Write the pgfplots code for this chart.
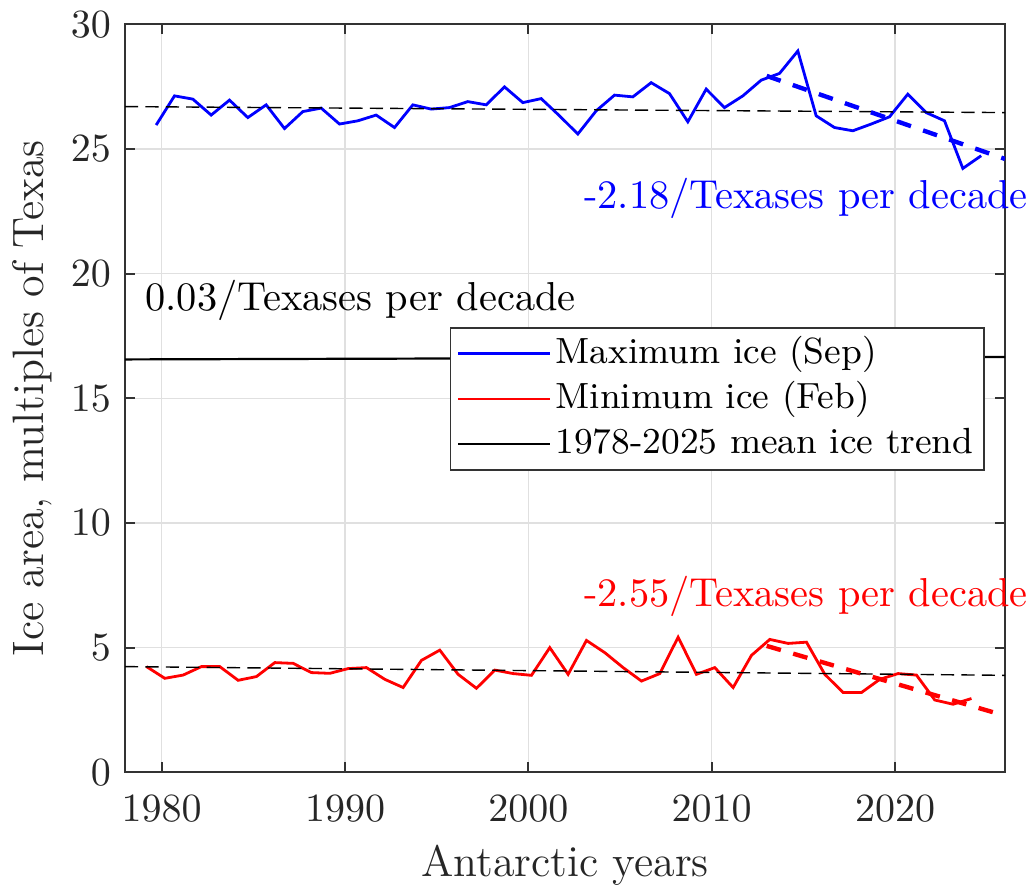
\documentclass[border=0pt]{standalone}
\usepackage{pgfplots}
\pgfplotsset{compat=1.18}
\begin{document}
\begin{tikzpicture}
\begin{axis}[
  scale only axis, width=220pt, height=187pt,
  xmin=1978, xmax=2026, ymin=0, ymax=30,
  xtick={1980,1990,2000,2010,2020}, ytick={0,5,10,15,20,25,30},
  tick pos=both, tick align=inside, major tick length=2.5pt,
  grid=major, grid style={line width=0.3pt, draw=black!12},
  axis line style={draw=black!80, line width=0.45pt},
  tick style={draw=black!80, line width=0.45pt},
  every tick label/.append style={font=\fontsize{10.3}{12}\selectfont, text=black!85},
  xticklabel style={yshift=-2.2pt},
  /pgf/number format/1000 sep={},
  xlabel={Antarctic years},
  ylabel={Ice area, multiples of Texas},
  every axis x label/.style={at={([yshift=-17.9pt]axis description cs:0.5,0)}, anchor=north, inner sep=0pt, font=\fontsize{11}{13}\selectfont, text=black!85},
  every axis y label/.style={at={([xshift=-28.3pt]axis description cs:0,0.5)}, rotate=90, anchor=north, inner sep=0pt, font=\fontsize{11}{13}\selectfont, text=black!85},
  clip mode=individual,
  legend cell align=left,
  legend style={at={(axis cs:1995.7,17.85)}, anchor=north west, draw=black!80, line width=0.4pt, fill=white,
    font=\fontsize{9.1}{11}\selectfont, inner xsep=1.6pt, inner ysep=0.8pt, row sep=0pt,
    nodes={inner sep=1pt, text height=7pt, text depth=2.3pt}},
  legend image code/.code={\draw[#1] (0pt,0pt) -- (23pt,0pt);},
]
% maximum ice (Sep)
\addplot[blue, line width=0.7pt] coordinates {
(1979.7,25.96) (1980.7,27.13) (1981.7,27.00) (1982.7,26.36) (1983.7,26.96)
(1984.7,26.26) (1985.7,26.77) (1986.7,25.82) (1987.7,26.50) (1988.7,26.64)
(1989.7,26.00) (1990.7,26.13) (1991.7,26.36) (1992.7,25.86) (1993.7,26.77)
(1994.7,26.60) (1995.7,26.66) (1996.7,26.90) (1997.7,26.77) (1998.7,27.49)
(1999.7,26.86) (2000.7,27.02) (2001.7,26.33) (2002.7,25.60) (2003.7,26.53)
(2004.7,27.16) (2005.7,27.09) (2006.7,27.66) (2007.7,27.22) (2008.7,26.09)
(2009.7,27.40) (2010.7,26.66) (2011.7,27.13) (2012.7,27.76) (2013.7,28.03)
(2014.7,28.93) (2015.7,26.33) (2016.7,25.86) (2017.7,25.73) (2018.7,26.00)
(2019.7,26.29) (2020.7,27.20) (2021.7,26.46) (2022.7,26.13) (2023.7,24.22)
(2024.7,24.73)};
\addlegendentry{Maximum ice (Sep)}
% minimum ice (Feb)
\addplot[red, line width=0.7pt] coordinates {
(1979.17,4.24) (1980.17,3.77) (1981.17,3.90) (1982.17,4.24) (1983.17,4.24)
(1984.17,3.69) (1985.17,3.84) (1986.17,4.40) (1987.17,4.37) (1988.17,4.00)
(1989.17,3.97) (1990.17,4.16) (1991.17,4.20) (1992.17,3.73) (1993.17,3.40)
(1994.17,4.49) (1995.17,4.90) (1996.17,3.93) (1997.17,3.37) (1998.17,4.10)
(1999.17,3.96) (2000.17,3.89) (2001.17,5.00) (2002.17,3.93) (2003.17,5.29)
(2004.17,4.80) (2005.17,4.20) (2006.17,3.66) (2007.17,3.96) (2008.17,5.42)
(2009.17,3.93) (2010.17,4.20) (2011.17,3.40) (2012.17,4.69) (2013.17,5.33)
(2014.17,5.17) (2015.17,5.22) (2016.17,3.93) (2017.17,3.20) (2018.17,3.20)
(2019.17,3.73) (2020.17,3.96) (2021.17,3.90) (2022.17,2.90) (2023.17,2.73)
(2024.17,2.96)};
\addlegendentry{Minimum ice (Feb)}
% mean trend
\addplot[black, line width=0.55pt] coordinates {(1978,16.56) (2026,16.66)};
\addlegendentry{1978-2025 mean ice trend}
% dashed means
\addplot[black, line width=0.35pt, dash pattern=on 3.3pt off 1.8pt, forget plot] coordinates {(1978,26.70) (2026,26.46)};
\addplot[black, line width=0.35pt, dash pattern=on 3.3pt off 1.8pt, forget plot] coordinates {(1978,4.24) (2026,3.89)};
% recent trends
\addplot[blue, line width=1.1pt, dash pattern=on 3.7pt off 3.2pt, forget plot] coordinates {(2013,27.93) (2026,24.60)};
\addplot[red, line width=1.1pt, dash pattern=on 3.7pt off 3.2pt, forget plot] coordinates {(2013,5.07) (2026,2.27)};
% annotations
\node[anchor=base west, inner sep=0pt, text=blue, font=\fontsize{10.1}{12}\selectfont] at (axis cs:2003,22.6) {-2.18/Texases per decade};
\node[anchor=base west, inner sep=0pt, text=red, font=\fontsize{10.1}{12}\selectfont] at (axis cs:2003,6.66) {-2.55/Texases per decade};
\node[anchor=base west, inner sep=0pt, text=black, font=\fontsize{10.1}{12}\selectfont] at (axis cs:1979.07,18.53) {0.03/Texases per decade};
\end{axis}
\pgfresetboundingbox
\path ([xshift=-31.25pt,yshift=-28.43pt]current axis.south west) rectangle ([xshift=7.5pt,yshift=6.08pt]current axis.north east);
\end{tikzpicture}
\end{document}
